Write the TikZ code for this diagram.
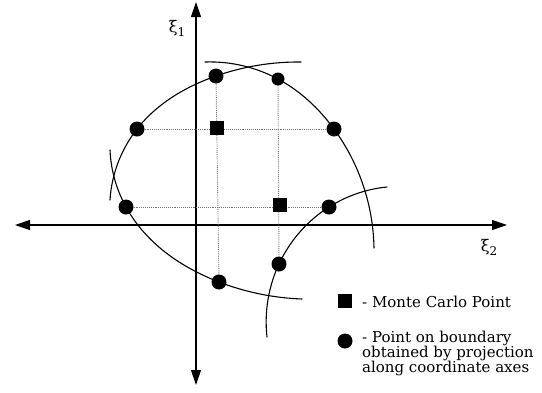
\documentclass[tikz,border=0pt]{standalone}
\usepackage{fontspec}
\setmainfont{DejaVu Serif}
\usetikzlibrary{arrows.meta,hobby}
\begin{document}
\begin{tikzpicture}[x=1pt,y=-1pt,
  axisline/.style={line width=1.2pt, draw=black, {Triangle[length=15pt,width=10pt]}-{Triangle[length=15pt,width=10pt]}},
  bnd/.style={line width=1.1pt, line cap=round, use Hobby shortcut},
  proj/.style={line width=0.9pt, draw=black!55, densely dotted},
  dot/.style={circle, fill=black, inner sep=0pt, minimum size=15pt},
  mcsq/.style={rectangle, fill=black, inner sep=0pt, minimum size=14pt},
  lbl/.style={font=\fontsize{15}{15}\selectfont, inner sep=0pt, anchor=base west},
  axlbl/.style={font=\fontsize{16}{16}\selectfont, inner sep=0pt}]
\useasboundingbox (0,0) rectangle (542,392);
% point positions
\coordinate (c1) at (216,76);
\coordinate (c2) at (278,79);
\coordinate (c3) at (137,129);
\coordinate (c4) at (334,129);
\coordinate (c5) at (126,207);
\coordinate (c6) at (329,207);
\coordinate (c7) at (219,282);
\coordinate (c8) at (279,264);
\coordinate (m1) at (217,128);
\coordinate (m2) at (280,205);
% arc end points
\coordinate (a1s) at (110,200);
\coordinate (a1e) at (301,62);
\coordinate (a2s) at (205,62);
\coordinate (a2e) at (374,248);
\coordinate (a3s) at (110,150);
\coordinate (a3e) at (302,299);
\coordinate (a4s) at (267,337);
\coordinate (a4e) at (387,187);
% axes
\coordinate (ytop) at (196,2);
\coordinate (ybot) at (196,385);
\coordinate (xl) at (15,225);
\coordinate (xr) at (507,225);
\draw[axisline] (ybot) -- (ytop);
\draw[axisline] (xl) -- (xr);
\node[axlbl] (xi1) at (177,28) {ξ\raisebox{-4pt}{\fontsize{12}{12}\selectfont 1}};
\node[axlbl] (xi2) at (489,247) {ξ\raisebox{-4pt}{\fontsize{12}{12}\selectfont 2}};
% projection lines
\draw[proj] (c3) -- (c4);
\draw[proj] (c5) -- (c6);
\draw[proj] (c1) -- (c7);
\draw[proj] (c2) -- (c8);
% boundary arcs
\draw[bnd] (a1s) .. (c3) .. (c1) .. (a1e);
\draw[bnd] (a2s) .. (c2) .. (c4) .. (a2e);
\draw[bnd] (a3s) .. (c5) .. (c7) .. (a3e);
\draw[bnd] (a4s) .. (c8) .. (c6) .. (a4e);
% points
\node[dot] (d1) at (c1) {};
\node[dot, minimum size=13pt] (d2) at (c2) {};
\node[dot] (d3) at (c3) {};
\node[dot] (d4) at (c4) {};
\node[dot] (d5) at (c5) {};
\node[dot] (d6) at (c6) {};
\node[dot] (d7) at (c7) {};
\node[dot] (d8) at (c8) {};
\node[mcsq] (s1) at (m1) {};
\node[mcsq] (s2) at (m2) {};
% legend
\node[mcsq] (legsq) at (345,301) {};
\node[dot] (legdot) at (345,341) {};
\node[lbl] (leg1) at (362,307) {- Monte Carlo Point};
\node[lbl] (leg2a) at (362,342) {- Point on boundary};
\node[lbl] (leg2b) at (362,357) {obtained by projection};
\node[lbl] (leg2c) at (362,372) {along coordinate axes};
\end{tikzpicture}
\end{document}
